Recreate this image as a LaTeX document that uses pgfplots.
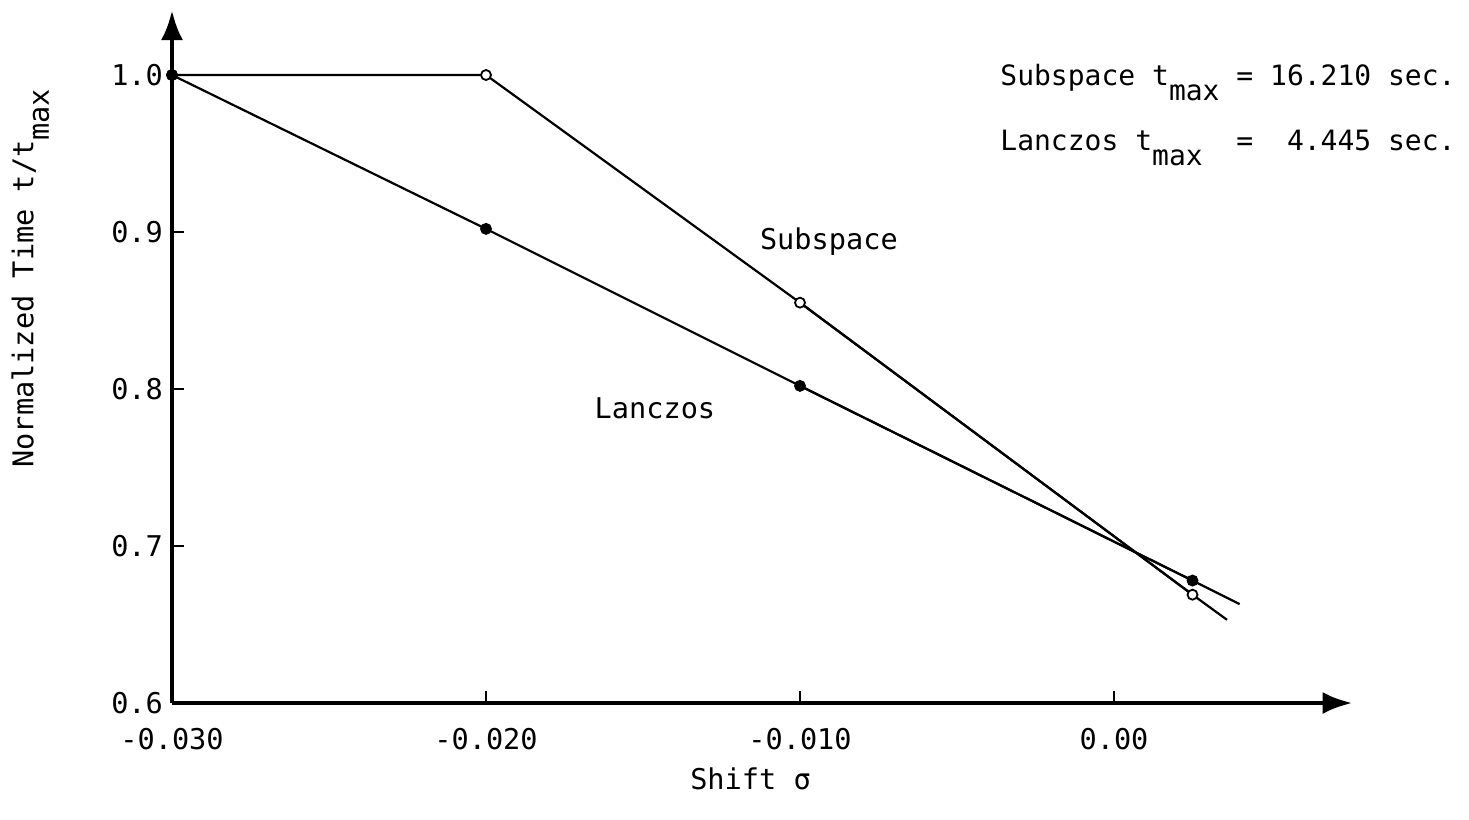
\documentclass[border=0pt]{standalone}
\usepackage{pgfplots}
\pgfplotsset{compat=1.18}
\usepackage{fontspec}
\setmainfont{DejaVu Sans Mono}
\usetikzlibrary{arrows.meta}

\pgfplotstableread{
x y
-0.030 1.000
-0.020 1.000
-0.010 0.855
0.0025 0.669
}\subspace
\pgfplotstableread{
x y
-0.030 1.000
-0.020 0.902
-0.010 0.802
0.0025 0.678
}\lanczos

\begin{document}
\begin{tikzpicture}
\begin{axis}[
  scale only axis,
  width=590.3pt, height=346.5pt,
  xmin=-0.030, xmax=0.0076,
  ymin=0.6, ymax=1.0414,
  clip=false,
  axis lines=left,
  axis line style={line width=2.4pt, -{Latex[length=15pt,width=11pt]}},
  scaled x ticks=false, scaled y ticks=false,
  xtick={-0.030,-0.020,-0.010,0.0},
  xticklabels={-0.030,-0.020,-0.010,0.00},
  ytick={0.6,0.7,0.8,0.9,1.0},
  yticklabels={0.6,0.7,0.8,0.9,1.0},
  tick align=inside,
  major tick length=6pt,
  tick style={line width=1pt, black},
  font=\fontsize{14.3}{16}\selectfont,
  xticklabel style={yshift=-9pt},
  yticklabel style={xshift=-1pt},
  xlabel={Shift σ},
  xlabel style={at={(axis description cs:0.49,0)}, yshift=-29pt},
  ylabel={Normalized Time t/t\raisebox{-1.0ex}{max}},
  ylabel style={at={(axis description cs:-0.12,0.613)}, anchor=center},
]
% line extensions
\addplot[black, line width=1.1pt] coordinates {(-0.010,0.855) (0.0025,0.669) (0.0036,0.653)};
\addplot[black, line width=1.1pt] coordinates {(-0.010,0.802) (0.0025,0.678) (0.0040,0.663)};
% Subspace
\addplot[black, line width=1.1pt, mark=*, mark options={fill=white, line width=0.9pt, scale=1.25}] table {\subspace};
% Lanczos
\addplot[black, line width=1.1pt, mark=*, mark options={fill=black, scale=1.2}] table {\lanczos};

\node at (axis cs:-0.00908,0.8936) {Subspace};
\node at (axis cs:-0.01462,0.788) {Lanczos};
\node[anchor=base west, inner sep=0pt, font=\fontsize{14}{16}\selectfont] at (axis cs:-0.00363,0.9936) {Subspace t\raisebox{-1.0ex}{max} = 16.210 sec.};
\node[anchor=base west, inner sep=0pt, font=\fontsize{14}{16}\selectfont] at (axis cs:-0.00363,0.952) {Lanczos t\raisebox{-1.0ex}{max}~~=~~4.445 sec.};
\path (axis cs:-0.035478,0.52611) rectangle (axis cs:0.011306,1.04777);
\end{axis}
\end{tikzpicture}
\end{document}
